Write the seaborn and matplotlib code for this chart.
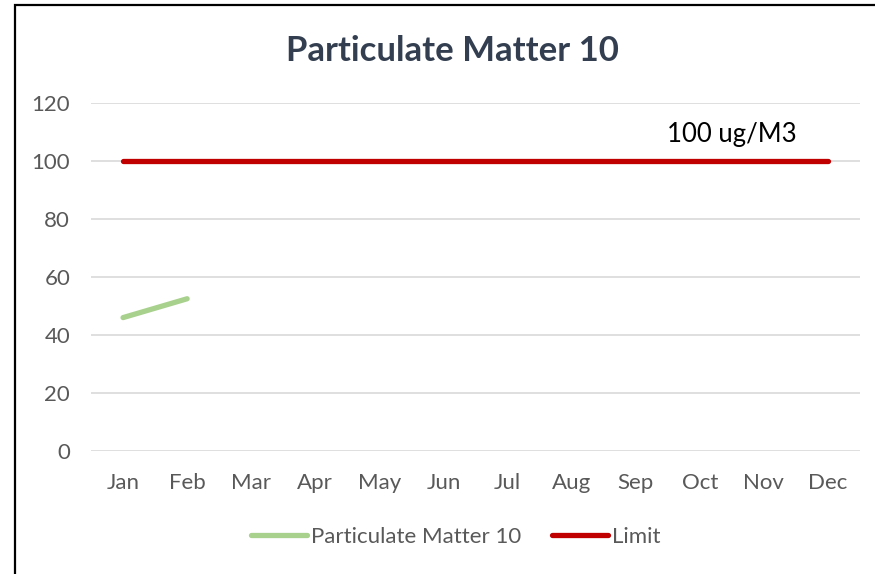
import pandas as pd
import seaborn as sns
import matplotlib.pyplot as plt
from matplotlib.lines import Line2D
from matplotlib.patches import Rectangle

meses = ['Jan', 'Feb', 'Mar', 'Apr', 'May', 'Jun', 'Jul', 'Aug', 'Sep', 'Oct', 'Nov', 'Dec']
pm10 = [46, 52.5, None, None, None, None, None, None, None, None, None, None]
limite = [100] * 12
yticks = [0, 20, 40, 60, 80, 100, 120]

verde = '#A9D18E'
vermelho = '#C00000'
cinza = '#595959'

sns.set_style("white")
plt.rcParams['font.family'] = ['Lato', 'DejaVu Sans']

fig = plt.figure(figsize=(8.75, 5.74), dpi=100)
ax = fig.add_axes([91 / 875, 1 - 451 / 574, (860 - 91) / 875, (451 - 103) / 574])

df_lim = pd.DataFrame({'mes': meses, 'valor': limite})
df_pm = pd.DataFrame({'mes': meses, 'valor': pm10}).dropna()

sns.lineplot(data=df_lim, x='mes', y='valor', ax=ax, color=vermelho,
             linewidth=3.8, solid_capstyle='round', sort=False, zorder=3)
sns.lineplot(data=df_pm, x='mes', y='valor', ax=ax, color=verde,
             linewidth=3.8, solid_capstyle='round', sort=False, zorder=3)

ax.set_xlim(-0.5, 11.5)
ax.set_ylim(0, 120)
ax.set_yticks(yticks)
ax.yaxis.grid(True, color='#D9D9D9', linewidth=1.2)
ax.set_axisbelow(True)
for s in ax.spines.values():
    s.set_visible(False)
ax.tick_params(axis='both', length=0, labelsize=16, labelcolor=cinza)
ax.tick_params(axis='y', pad=15)
ax.tick_params(axis='x', pad=16)
ax.set_xlabel('')
ax.set_ylabel('')
for linha in ax.lines:
    linha.set_clip_on(False)

ax.text(9.5, 106.5, '100 ug/M3', fontsize=18.5, color='black', ha='center', va='baseline')

fig.text(452 / 875, 1 - 51 / 574, 'Particulate Matter 10', fontsize=25, fontweight='bold',
         color='#333F50', ha='center', va='center')

handles = [Line2D([], [], color=verde, linewidth=3.8, solid_capstyle='round'),
           Line2D([], [], color=vermelho, linewidth=3.8, solid_capstyle='round')]
fig.legend(handles, ['Particulate Matter 10', 'Limit'], loc='center',
           bbox_to_anchor=(456 / 875, 1 - 537 / 574), ncol=2, frameon=False,
           fontsize=16, labelcolor=cinza, handlelength=2.5, handletextpad=0.2,
           columnspacing=1.4)

fig.patches.append(Rectangle((15 / 875, -0.1), 1.0, 1.1 - 5 / 574, transform=fig.transFigure,
                             fill=False, edgecolor='black', linewidth=1.6))

fig.savefig('out.png', dpi=100)
